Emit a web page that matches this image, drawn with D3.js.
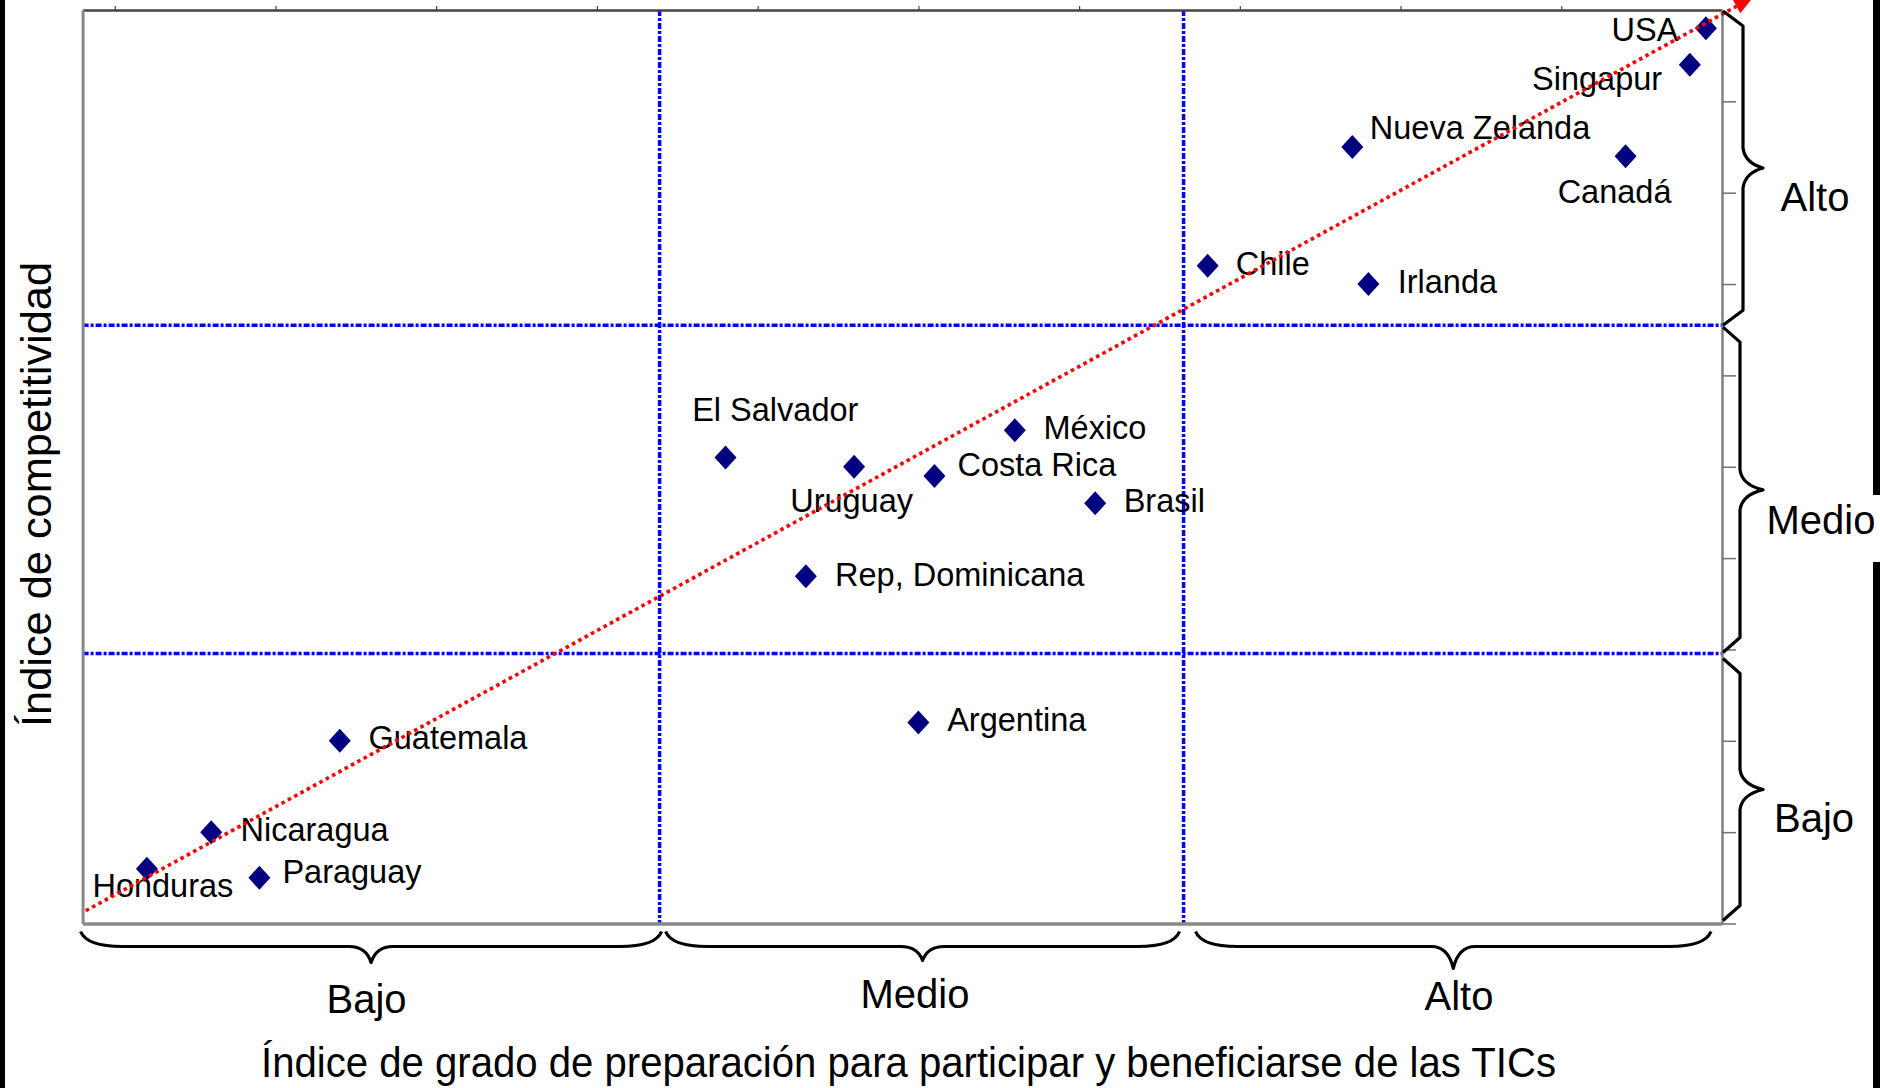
<!DOCTYPE html>
<html><head><meta charset="utf-8">
<script src="https://cdn.jsdelivr.net/npm/d3@7"></script>
<style>
html,body{margin:0;padding:0;background:#fff;overflow:hidden;}
svg{display:block;}
text{font-family:"Liberation Sans", Arial, Helvetica, sans-serif;fill:#000;}
</style></head><body>
<svg id="chart" width="1880" height="1088"></svg>
<script>
// ---------- data ----------
const countries = ["USA","Singapur","Nueva Zelanda","Canadá","Chile","Irlanda","El Salvador","México","Uruguay","Costa Rica","Brasil","Rep, Dominicana","Argentina","Guatemala","Nicaragua","Honduras","Paraguay"];
const ticIndex = [9.9,9.8,7.7,9.4,6.8,7.8,3.8,5.6,4.6,5.1,6.1,4.3,5.0,1.4,0.6,0.2,0.9];
const competitividad = [9.8,9.4,8.5,8.4,7.2,7.0,5.1,5.4,5.0,4.9,4.6,3.8,2.2,2.0,1.0,0.6,0.5];
const xLimits = [3.39, 6.65];          // Bajo | Medio | Alto (TIC index)
const yLimits = [2.955, 6.55];         // Bajo | Medio | Alto (competitividad)
const levelLabels = ["Bajo","Medio","Alto"];
const trendStart = [-0.18, 0.14];
const trendEnd = [10.09, 10.04];
const xTitle = "Índice de grado de preparación para participar y beneficiarse de las TICs";
const yTitle = "Índice de competitividad";

(function(){
// ---------- layout ----------
const svg = d3.select("#chart");
const x = d3.scaleLinear().domain([-0.2, 10]).range([82.6, 1722]);
const y = d3.scaleLinear().domain([0, 10]).range([923.5, 10]);

// label placement (anchor, dx, dy relative to marker)
const labelPos = {
  "USA":["end",-27.5,12.8], "Singapur":["end",-27.7,25], "Nueva Zelanda":["start",17.5,-7.7],
  "Canadá":["middle",-11,47.3], "Chile":["start",28,9.5], "Irlanda":["start",29.3,9],
  "El Salvador":["middle",49.8,-36.6], "México":["start",28.7,9], "Uruguay":["middle",-2.5,45],
  "Costa Rica":["start",23,0], "Brasil":["start",28.5,9], "Rep, Dominicana":["start",29.2,9.4],
  "Argentina":["start",28.8,8.7], "Guatemala":["start",28.7,8.4], "Nicaragua":["start",29.3,9],
  "Honduras":["middle",16,28.4], "Paraguay":["start",23,5]
};

// black frame strips of the original picture
svg.append("rect").attr("x",0).attr("y",0).attr("width",5).attr("height",1088).attr("fill","#000");
svg.append("rect").attr("x",1873).attr("y",0).attr("width",7).attr("height",495).attr("fill","#000");
svg.append("rect").attr("x",1873).attr("y",562).attr("width",7).attr("height",526).attr("fill","#000");

// grid (dashed blue)
const grid = svg.append("g").attr("fill","none").attr("stroke","#0000ff").attr("stroke-width",3.5).attr("stroke-dasharray","6,2,3,2");
xLimits.forEach(v => grid.append("line").attr("x1",x(v)).attr("x2",x(v)).attr("y1",y(10)).attr("y2",y(0)));
yLimits.forEach(v => grid.append("line").attr("x1",x(-0.2)).attr("x2",x(10)).attr("y1",y(v)).attr("y2",y(v)));

// axes
const axTop = svg.append("g").attr("transform",`translate(0,${y(10)})`)
  .call(d3.axisTop(x).tickValues(d3.range(0,10)).tickSize(4).tickSizeOuter(0).tickFormat(""));
axTop.select(".domain").attr("stroke","#444").attr("stroke-width",2.5);
axTop.selectAll(".tick line").attr("stroke","#444").attr("stroke-width",1.2);

const axRight = svg.append("g").attr("transform",`translate(${x(10)},0)`)
  .call(d3.axisRight(y).tickValues(d3.range(0,10)).tickSize(14).tickSizeOuter(0).tickFormat(""));
axRight.select(".domain").attr("stroke","#808080").attr("stroke-width",2.5);
axRight.selectAll(".tick line").attr("stroke","#707070").attr("stroke-width",1.5);

const axLeft = svg.append("g").attr("transform",`translate(${x(-0.2)},0)`)
  .call(d3.axisLeft(y).tickValues([]).tickSizeOuter(0));
axLeft.select(".domain").attr("stroke","#888").attr("stroke-width",3);

const axBottom = svg.append("g").attr("transform",`translate(0,${y(0)})`)
  .call(d3.axisBottom(x).tickValues([]).tickSizeOuter(0));
axBottom.select(".domain").attr("stroke","#888").attr("stroke-width",3.5);

// markers
const pts = countries.map((c,i)=>({c, xv:ticIndex[i], yv:competitividad[i]}));
svg.append("g").selectAll("path").data(pts).join("path")
  .attr("d","M0,-12L11,0L0,12L-11,0Z")
  .attr("transform",d=>`translate(${x(d.xv)},${y(d.yv)})`)
  .attr("fill","#000080");

// labels
svg.append("g").selectAll("text").data(pts).join("text")
  .attr("x",d=>x(d.xv)+labelPos[d.c][1])
  .attr("y",d=>y(d.yv)+labelPos[d.c][2])
  .attr("text-anchor",d=>labelPos[d.c][0])
  .attr("font-size",32.5)
  .text(d=>d.c);

// trend line with arrow
const defs = svg.append("defs");
defs.append("marker").attr("id","arr").attr("markerUnits","userSpaceOnUse")
  .attr("markerWidth",20).attr("markerHeight",16).attr("refX",0).attr("refY",8)
  .attr("orient","auto").attr("overflow","visible")
  .append("path").attr("d","M0,0L19,8L0,16Z").attr("fill","#ff0000");
svg.append("line")
  .attr("x1",x(trendStart[0])).attr("y1",y(trendStart[1]))
  .attr("x2",x(trendEnd[0])).attr("y2",y(trendEnd[1]))
  .attr("stroke","#ff0000").attr("stroke-width",3.6).attr("stroke-dasharray","3.6,3.6")
  .attr("marker-end","url(#arr)");

// braces
function hBrace(x0,x1,yEnd,yLine,yTip){
  const xm=(x0+x1)/2;
  return `M${x0},${yEnd} Q${x0+6},${yLine} ${x0+42},${yLine} L${xm-22},${yLine} Q${xm-5},${yLine} ${xm},${yTip} Q${xm+5},${yLine} ${xm+22},${yLine} L${x1-42},${yLine} Q${x1-6},${yLine} ${x1},${yEnd}`;
}
function vBrace(y0,y1,xEnd,xLine,xTip){
  const ym=(y0+y1)/2;
  return `M${xEnd},${y0} L${xLine},${y0+15} L${xLine},${ym-20} Q${xLine+2},${ym-5} ${xTip},${ym} Q${xLine+2},${ym+5} ${xLine},${ym+20} L${xLine},${y1-15} L${xEnd},${y1}`;
}
const br = svg.append("g").attr("fill","none").attr("stroke","#000").attr("stroke-width",3.2).attr("stroke-linejoin","round");
const xb = [-0.2, ...xLimits, 10];
const hb = [[x(xb[0])-2, x(xb[1])+2, 16], [x(xb[1])+6, x(xb[2])-4, 14], [x(xb[2])+12, x(xb[3])-11, 22]];
hb.forEach(b=>br.append("path").attr("d",hBrace(b[0],b[1],y(0)+8,y(0)+23,y(0)+23+b[2])));
const yb = [10, ...yLimits.slice().reverse(), 0];
const vb = [[y(yb[0])+1, y(yb[1]), 1743], [y(yb[1])+2, y(yb[2])-1, 1740], [y(yb[2])+5, y(yb[3])-3, 1740]];
vb.forEach(b=>br.append("path").attr("d",vBrace(b[0],b[1],1723,b[2],1763)));

// level labels
const bottomLab = [[366.5,1013],[915,1008],[1459,1010]];
levelLabels.forEach((t,i)=>svg.append("text").attr("x",bottomLab[i][0]).attr("y",bottomLab[i][1])
  .attr("text-anchor","middle").attr("font-size",40).text(t));
const rightLab = [[1814,832],[1821,534],[1815,211]];
levelLabels.forEach((t,i)=>svg.append("text").attr("x",rightLab[i][0]).attr("y",rightLab[i][1])
  .attr("text-anchor","middle").attr("font-size",40).text(t));

// axis titles
svg.append("text").attr("x",908.5).attr("y",1077).attr("text-anchor","middle")
  .attr("font-size",42).attr("textLength",1295).attr("lengthAdjust","spacingAndGlyphs").text(xTitle);
svg.append("text").attr("transform","translate(51,494.5) rotate(-90)").attr("text-anchor","middle")
  .attr("font-size",42).attr("textLength",465).attr("lengthAdjust","spacingAndGlyphs").text(yTitle);
})();
</script>
</body></html>
